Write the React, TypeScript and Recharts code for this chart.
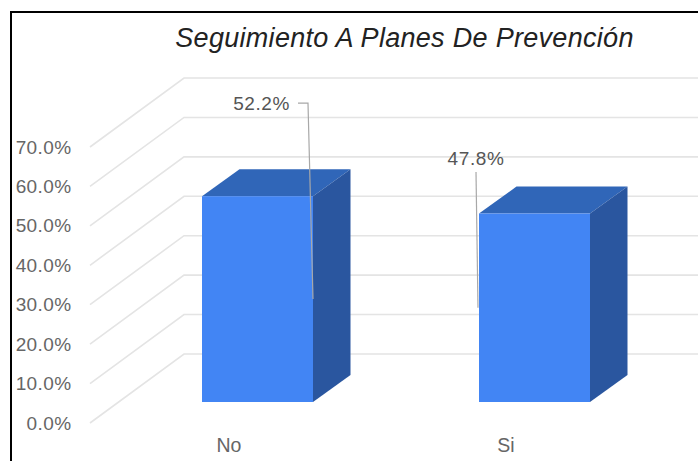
import React from "react";
import { BarChart, Bar, XAxis, YAxis, CartesianGrid, LabelList } from "recharts";

const categories = ["No", "Si"];
const percentValues = [52.2, 47.8];
const yTicks = [0, 10, 20, 30, 40, 50, 60, 70];
const titleText = "Seguimiento A Planes De Prevención";

const tableData = categories.map((name, i) => ({ name, value: percentValues[i] }));

const FONT = "'Liberation Sans', Arial, sans-serif";
const DEPTH_X = 37.5;
const DEPTH_Y = 27;
const GRID_BACK_DY = -48;
const GRID_FRONT_DY = 21;
const GRID_BACK_X = 184;
const GRID_FRONT_X = 90;

const GridLine = (p: any) => {
  const { y1, index } = p;
  const back = y1 + GRID_BACK_DY;
  return (
    <g key={`g${index}`}>
      <polyline
        points={`${GRID_FRONT_X},${y1 + GRID_FRONT_DY} ${GRID_BACK_X},${back} 698,${back}`}
        fill="none"
        stroke="#e4e4e4"
        strokeWidth={1.6}
      />
    </g>
  );
};

const Box3D = (p: any) => {
  const { x, y, width, height } = p;
  const r = x + width;
  const b = y + height;
  return (
    <g>
      <polygon points={`${x},${y} ${x + DEPTH_X},${y - DEPTH_Y} ${r + DEPTH_X},${y - DEPTH_Y} ${r},${y}`} fill="#3066b8" />
      <polygon points={`${r},${y} ${r + DEPTH_X},${y - DEPTH_Y} ${r + DEPTH_X},${b - DEPTH_Y} ${r},${b}`} fill="#2a569f" />
      <rect x={x} y={y} width={width} height={height} fill="#4285f4" />
    </g>
  );
};

const BarCallout = (p: any) => {
  const { x, y, width, height, value, index } = p;
  const mid = y + height / 2;
  if (index === 0) {
    const top = y - 93;
    const r = x + width;
    return (
      <g>
        <polyline points={`${r - 15},${top} ${r - 5},${top} ${r},${mid}`} fill="none" stroke="#a8a8a8" strokeWidth={1.2} />
        <text x={r - 23} y={top + 6.5} textAnchor="end" fontFamily={FONT} fontSize={19} letterSpacing={0.6} fill="#555">{`${value}%`}</text>
      </g>
    );
  }
  const top = y - 41.5;
  return (
    <g>
      <polyline points={`${x - 3},${top} ${x - 1},${mid}`} fill="none" stroke="#a8a8a8" strokeWidth={1.2} />
      <text x={x - 3} y={top - 7} textAnchor="middle" fontFamily={FONT} fontSize={19} letterSpacing={0.6} fill="#555">{`${value}%`}</text>
    </g>
  );
};

const YTick = (p: any) => (
  <text x={p.x - 47.5} y={p.y + GRID_FRONT_DY + 6.5} textAnchor="end" fontFamily={FONT} fontSize={19} letterSpacing={0.4} fill="#666">
    {`${p.payload.value.toFixed(1)}%`}
  </text>
);

const XTick = (p: any) => (
  <text x={p.x - 28.5} y={452} textAnchor="middle" fontFamily={FONT} fontSize={19.5} fill="#666">
    {p.payload.value}
  </text>
);

export default function App() {
  return (
    <div style={{ position: "absolute", left: 0, top: 0, width: 698, height: 461, overflow: "hidden", background: "#fff" }}>
      <BarChart
        width={698}
        height={461}
        data={tableData}
        margin={{ top: 126, right: 25, bottom: 29, left: 59 }}
        barCategoryGap="30%"
      >
        <CartesianGrid vertical={false} horizontal={GridLine as any} />
        <XAxis dataKey="name" axisLine={false} tickLine={false} height={30} tick={XTick as any} interval={0} />
        <YAxis
          domain={[0, 70]}
          ticks={yTicks}
          width={60}
          axisLine={false}
          tickLine={false}
          tickSize={0}
          tickMargin={0}
          tick={YTick as any}
          interval={0}
        />
        <Bar dataKey="value" barSize={111} shape={Box3D as any} isAnimationActive={false}>
          <LabelList dataKey="value" content={BarCallout as any} />
        </Bar>
        <text x={404.5} y={47} textAnchor="middle" fontFamily={FONT} fontStyle="italic" fontSize={27} letterSpacing={0.3} fill="#222">
          {titleText}
        </text>
      </BarChart>
      <div
        style={{
          position: "absolute",
          left: 10,
          top: 11,
          right: 0,
          bottom: 0,
          borderLeft: "2.5px solid #000",
          borderTop: "2.5px solid #000",
          pointerEvents: "none",
        }}
      />
    </div>
  );
}
